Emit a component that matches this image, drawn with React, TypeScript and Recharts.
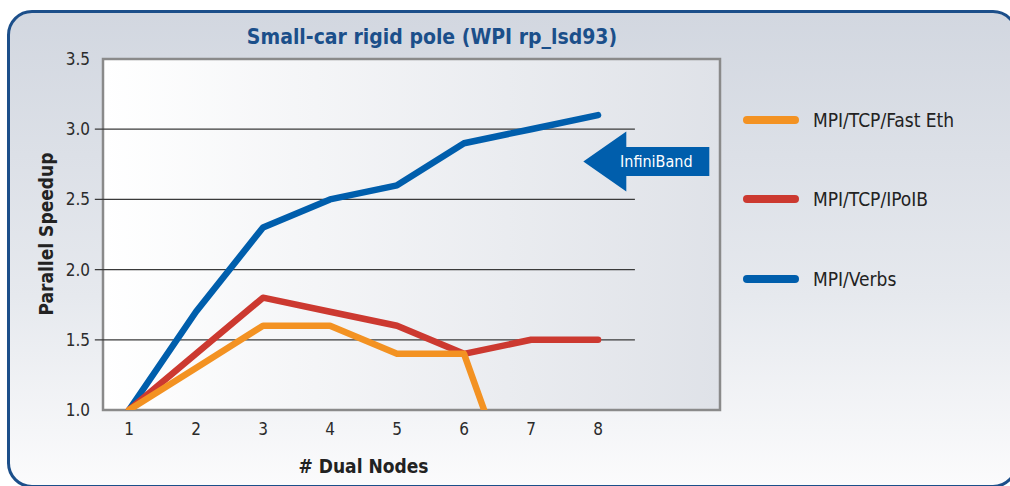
import {
  LineChart,
  Line,
  XAxis,
  YAxis,
  ReferenceArea,
  ReferenceLine,
  ReferenceDot,
} from "recharts";

const nodes = [1, 2, 3, 4, 5, 6, 7, 8];
const verbs = [1.0, 1.7, 2.3, 2.5, 2.6, 2.9, 3.0, 3.1];
const ipoib = [1.0, 1.4, 1.8, 1.7, 1.6, 1.4, 1.5, 1.5];
const fastEthNodes = [1, 2, 3, 4, 5, 6, 6.3];
const fastEth = [1.0, 1.3, 1.6, 1.6, 1.4, 1.4, 1.0];

const yTicks = [1.0, 1.5, 2.0, 2.5, 3.0, 3.5];
const gridValues = [1.5, 2.0, 2.5, 3.0];

const NARROW = '"Liberation Sans Narrow", "DejaVu Sans Condensed", "Roboto", sans-serif';

const series = [
  { key: "fast", name: "MPI/TCP/Fast Eth", color: "#f39222" },
  { key: "ipoib", name: "MPI/TCP/IPoIB", color: "#cc3930" },
  { key: "verbs", name: "MPI/Verbs", color: "#005eac" },
];

const verbsData = nodes.map((n, i) => ({ n, v: verbs[i] }));
const ipoibData = nodes.map((n, i) => ({ n, v: ipoib[i] }));
const fastData = fastEthNodes.map((n, i) => ({ n, v: fastEth[i] }));

function LegendBox() {
  return (
    <div
      style={{
        position: "absolute",
        left: 742,
        top: 80,
        fontFamily: NARROW,
      }}
    >
      {series.map((s) => (
        <div
          key={s.key}
          style={{ display: "flex", alignItems: "center", height: 79.5 }}
        >
          <svg width={58} height={10} style={{ display: "block" }}>
            <line
              x1={5}
              y1={5}
              x2={53}
              y2={5}
              stroke={s.color}
              strokeWidth={8}
              strokeLinecap="round"
            />
          </svg>
          <span style={{ marginLeft: 13, fontSize: 19, color: "#222" }}>{s.name}</span>
        </div>
      ))}
    </div>
  );
}

function ArrowShape(props: any) {
  const { cx, cy } = props;
  if (cx == null || cy == null) return null;
  const pts = [
    [cx, cy],
    [cx + 43, cy - 30],
    [cx + 43, cy - 14.5],
    [cx + 126, cy - 14.5],
    [cx + 126, cy + 14.5],
    [cx + 43, cy + 14.5],
    [cx + 43, cy + 30],
  ]
    .map((p) => p.join(","))
    .join(" ");
  return (
    <g>
      <polygon points={pts} fill="#005eac" />
      <text
        x={cx + 73}
        y={cy}
        textAnchor="middle"
        dominantBaseline="central"
        fill="#fff"
        fontSize={16}
        fontFamily={NARROW}
      >
        InfiniBand
      </text>
    </g>
  );
}

export default function App() {
  return (
    <div
      style={{
        position: "fixed",
        left: 0,
        top: 0,
        width: 1010,
        height: 486,
        overflow: "hidden",
        background: "#fff",
      }}
    >
      <div
        style={{
          position: "absolute",
          left: 7,
          top: 10,
          width: 1011,
          height: 478,
          boxSizing: "border-box",
          border: "3px solid #1c4f8a",
          borderRadius: 25,
          background: "linear-gradient(180deg, #d2d7e0 0%, #e6e9ee 60%, #fbfbfc 100%)",
        }}
      />
      <div
        style={{
          position: "absolute",
          left: 0,
          width: 864,
          top: 25,
          textAlign: "center",
          fontFamily: NARROW,
          fontWeight: "bold",
          fontSize: 21,
          color: "#1b4f8a",
        }}
      >
        Small-car rigid pole (WPI rp_lsd93)
      </div>
      <LegendBox />
      <div style={{ position: "absolute", left: 0, top: 0 }}>
        <LineChart
          width={1010}
          height={486}
          margin={{ top: 59, right: 290, bottom: 46, left: 43 }}
        >
          <defs>
            <linearGradient id="plotFill" x1="0" y1="0" x2="1" y2="0">
              <stop offset="0%" stopColor="#ffffff" />
              <stop offset="100%" stopColor="#dfe2e8" />
            </linearGradient>
          </defs>
          <XAxis
            type="number"
            dataKey="n"
            domain={[0.612, 9.82]}
            ticks={nodes}
            allowDataOverflow
            axisLine={false}
            tickLine={false}
            tickSize={0}
            tickMargin={13}
            height={30}
            tick={{ fontSize: 17, fill: "#2b2b2b", fontFamily: NARROW }}
            label={{
              value: "# Dual Nodes",
              position: "bottom",
              dx: -48,
              dy: 15,
              style: { fontSize: 19, fontWeight: "bold", fill: "#222", fontFamily: NARROW },
            }}
          />
          <YAxis
            type="number"
            domain={[1, 3.5]}
            ticks={yTicks}
            allowDataOverflow
            width={60}
            axisLine={false}
            tickLine={false}
            tickSize={0}
            tickMargin={13}
            tickFormatter={(v) => v.toFixed(1)}
            tick={{ fontSize: 17, fill: "#2b2b2b", fontFamily: NARROW }}
            label={{
              value: "Parallel Speedup",
              angle: -90,
              position: "insideLeft",
              dx: -2,
              dy: 81,
              style: { fontSize: 19, fontWeight: "bold", fill: "#222", fontFamily: NARROW },
            }}
          />
          <ReferenceArea
            y1={1}
            y2={3.5}
            fill="url(#plotFill)"
            fillOpacity={1}
            stroke="#8a8a8a"
            strokeWidth={2.5}
            ifOverflow="visible"
          />
          {gridValues.map((g) => (
            <ReferenceLine
              key={g}
              segment={[
                { x: 0.49, y: g },
                { x: 8.55, y: g },
              ]}
              stroke="#3a3a3a"
              strokeWidth={1.2}
              ifOverflow="visible"
            />
          ))}
          <ReferenceDot
            x={7.78}
            y={2.77}
            r={0}
            ifOverflow="visible"
            shape={ArrowShape}
          />
          <Line
            data={verbsData}
            dataKey="v"
            name="MPI/Verbs"
            stroke="#005eac"
            strokeWidth={6.5}
            strokeLinecap="round"
            strokeLinejoin="round"
            dot={false}
            isAnimationActive={false}
          />
          <Line
            data={ipoibData}
            dataKey="v"
            name="MPI/TCP/IPoIB"
            stroke="#cc3930"
            strokeWidth={6.5}
            strokeLinecap="round"
            strokeLinejoin="round"
            dot={false}
            isAnimationActive={false}
          />
          <Line
            data={fastData}
            dataKey="v"
            name="MPI/TCP/Fast Eth"
            stroke="#f39222"
            strokeWidth={6.5}
            strokeLinecap="round"
            strokeLinejoin="round"
            dot={false}
            isAnimationActive={false}
          />
        </LineChart>
      </div>
    </div>
  );
}
